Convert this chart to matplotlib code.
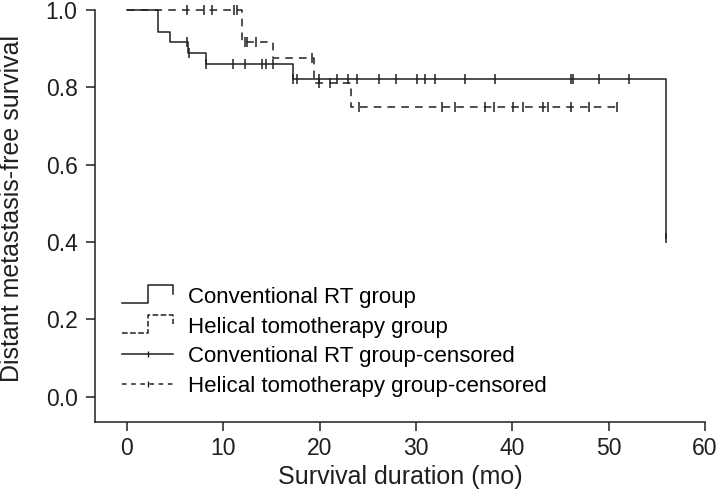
import numpy as np
import matplotlib
matplotlib.use("Agg")
import matplotlib.pyplot as plt
from matplotlib.lines import Line2D
from matplotlib.legend_handler import HandlerBase

plt.rcParams['font.family'] = ['Liberation Sans', 'DejaVu Sans']

# Kaplan-Meier steps (months, survival)
conv_t = [0, 3.2, 4.5, 6.4, 8.2, 17.2, 56.0]
conv_s = [1.0, 0.944, 0.917, 0.889, 0.861, 0.822, 0.41]
helic_t = [0, 12.0, 15.2, 19.4, 23.3, 51.0]
helic_s = [1.0, 0.917, 0.875, 0.81, 0.75, 0.75]

# censored observations
conv_ct = [6.2, 6.5, 8.2, 11.0, 12.3, 14.0, 14.4, 15.2, 17.3, 17.7, 19.9, 21.8,
           23.0, 23.9, 26.2, 27.9, 30.1, 30.9, 32.0, 35.1, 38.2, 46.1, 46.3,
           49.0, 52.1, 56.0]
conv_cs = [0.917, 0.889, 0.861, 0.861, 0.861, 0.861, 0.861, 0.861, 0.822, 0.822,
           0.822, 0.822, 0.822, 0.822, 0.822, 0.822, 0.822, 0.822, 0.822, 0.822,
           0.822, 0.822, 0.822, 0.822, 0.822, 0.41]
helic_ct = [6.3, 8.0, 8.8, 11.1, 11.4, 12.3, 12.5, 13.4, 19.2, 19.9, 21.1,
            24.1, 32.7, 34.1, 37.2, 38.1, 40.1, 41.1, 43.2, 43.7, 46.1, 48.0, 50.9]
helic_cs = [1.0, 1.0, 1.0, 1.0, 1.0, 0.917, 0.917, 0.917, 0.875, 0.81, 0.81,
            0.75, 0.75, 0.75, 0.75, 0.75, 0.75, 0.75, 0.75, 0.75, 0.75, 0.75, 0.75]

labels = ['Conventional RT group', 'Helical tomotherapy group',
          'Conventional RT group-censored', 'Helical tomotherapy group-censored']

col = '#231f20'
dash = (0, (5, 4))


class StepHandler(HandlerBase):
    def create_artists(self, legend, orig_handle, xdescent, ydescent,
                       width, height, fontsize, trans):
        xs = np.array([0, 0.5, 0.5, 1, 1]) * width - xdescent
        ys = np.array([0.0, 0.0, 1.15, 1.15, 0.55]) * height - ydescent
        ln = Line2D(xs, ys, color=orig_handle.get_color(),
                    linestyle=orig_handle.get_linestyle(), linewidth=1.1)
        ln.set_transform(trans)
        return [ln]


fig = plt.figure(figsize=(7.19, 5.01), dpi=100)
ax = fig.add_axes([0.1321, 0.1577, 0.8484, 0.8224])

ax.step(conv_t, conv_s, where='post', color=col, lw=1.1, clip_on=False)
ax.step(helic_t, helic_s, where='post', color=col, lw=1.1, linestyle=dash, clip_on=False)
ax.plot(conv_ct, conv_cs, linestyle='none', marker='|', ms=7, mew=1.1, color=col, clip_on=False)
ax.plot(helic_ct, helic_cs, linestyle='none', marker='|', ms=7, mew=1.1, color=col, clip_on=False)

h1 = Line2D([], [], color=col, lw=1.1)
h2 = Line2D([], [], color=col, lw=1.1, linestyle=(0, (3, 3)))
h3 = Line2D([], [], color=col, lw=1.1, marker='|', ms=5)
h4 = Line2D([], [], color=col, lw=1.1, linestyle=(0, (3, 3)), marker='|', ms=5)
leg = ax.legend([h1, h2, h3, h4], labels, loc='upper left',
                bbox_to_anchor=(0.0443, 0.328), frameon=False, fontsize=16,
                handlelength=2.3, handletextpad=0.65, labelspacing=0.39,
                borderpad=0, borderaxespad=0, numpoints=1,
                handler_map={h1: StepHandler(), h2: StepHandler()})

ax.set_xlim(-3.3, 60)
ax.set_ylim(-0.065, 1.0)
ax.set_xticks(np.arange(0, 61, 10))
ax.set_yticks(np.arange(0, 1.01, 0.2))
ax.yaxis.set_major_formatter(plt.FormatStrFormatter('%.1f'))
for s in ['top', 'right']:
    ax.spines[s].set_visible(False)
for s in ['left', 'bottom']:
    ax.spines[s].set_linewidth(1.1)
    ax.spines[s].set_color(col)
ax.tick_params(direction='out', length=6.5, width=1.1, labelsize=16.5, colors=col)
ax.tick_params(axis='y', pad=6)
ax.tick_params(axis='x', pad=4)
ax.set_xlabel('Survival duration (mo)', fontsize=18, color=col, labelpad=4)
ax.set_ylabel('Distant metastasis-free survival', fontsize=18, color=col)
ax.yaxis.set_label_coords(-0.116, 0.517)

fig.savefig('out.png', dpi=100)
